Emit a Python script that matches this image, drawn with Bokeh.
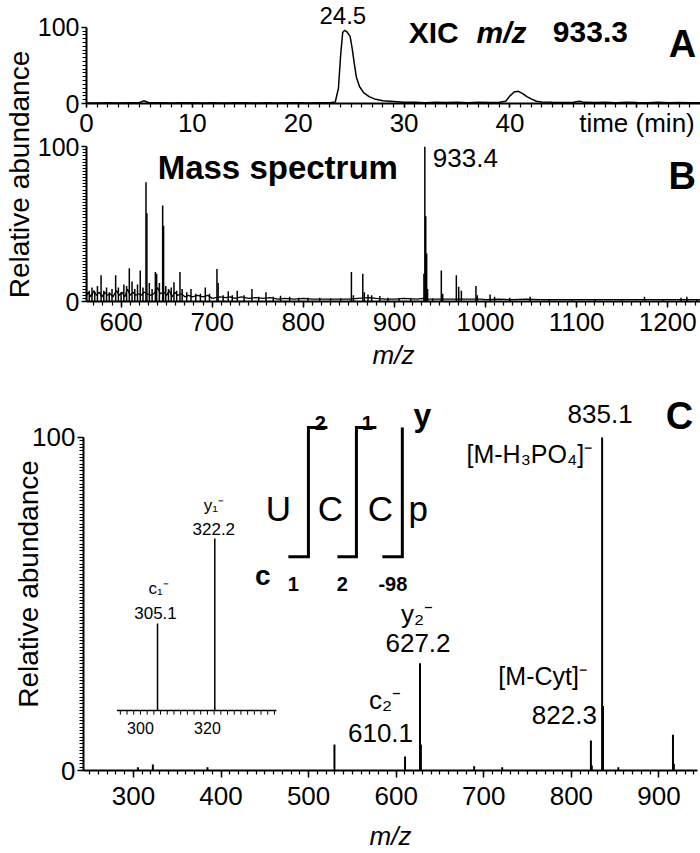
from math import pi
from bokeh.plotting import figure
from bokeh.models import Range1d, FixedTicker, Label
from bokeh.layouts import row, column
from bokeh.embed import file_html
from bokeh.resources import INLINE

FONT = "Liberation Sans"

# ------------------------------------------------------------------ data
# Panel A: extracted ion chromatogram, m/z 933.3
xic_time = [0, 1, 2, 3, 4, 5, 5.4, 5.9,
            7, 8, 9, 10, 11, 12, 13, 14, 15, 16, 17, 18, 19, 20, 21, 22, 23,
            23.5, 23.8, 24.0, 24.2, 24.4, 24.6, 24.9, 25.1, 25.3, 25.5, 25.8, 26.2, 26.7, 27.2,
            28, 29, 30, 31, 32, 33, 34, 35, 36, 37, 38, 39,
            39.6, 40.0, 40.4, 40.8, 41.2, 41.6, 42.0, 42.5,
            43, 44, 45, 46, 46.6,
            47, 48, 49, 50, 51, 52, 53, 54, 55, 56, 57, 58]
xic_abund = [0.8, 0.8, 1, 0.8, 1, 1, 3.5, 1,
             1, 0.8, 1, 1, 0.8, 1, 0.8, 1, 1, 0.8, 1, 0.8, 1, 1, 0.8, 1, 1,
             2, 20, 62, 93, 96, 94, 88, 72, 52, 34, 22, 14, 9, 6,
             3.5, 2.5, 1.5, 1.5, 1, 1.5, 1.2, 1.5, 1, 1.5, 1.2, 1.5,
             3, 10, 15, 16, 13, 9, 6, 3,
             2, 1.5, 1.2, 1.5, 3,
             1.5, 1.2, 1.5, 1, 1.5, 1.2, 1, 1.5, 1, 1.2, 1, 1]
xic_apex_label = "24.5"

# Panel B: full mass spectrum (peaks + baseline noise)
ms_peak_mz = [562, 565, 568, 571, 574, 578, 581, 584, 587, 590,
              594, 597, 600, 603, 606, 609, 612, 615, 618, 621,
              624, 627.3, 628.3, 631, 634, 637.6, 639, 642, 645.6, 646.6,
              649, 652, 655, 658, 661, 664.6, 667, 672, 676.7, 682,
              687, 692.4, 697, 705.2, 706.5, 712, 717.6, 722, 727.5, 735,
              743.6, 751, 759, 767, 775, 785, 795, 805, 818, 830,
              841, 852.8, 855, 865.3, 867, 871, 875, 884, 893, 905,
              918, 932.4, 933.4, 934.4, 935.4, 936.4, 942, 951.5, 953, 968,
              970.6, 973.5, 989.5, 991, 1005, 1010, 1026.5, 1049, 1070, 1095,
              1120, 1150, 1174.5, 1195, 1214.6, 1221, 1232]
ms_peak_abund = [19, 7, 9, 6, 10, 17, 7, 9, 6, 8,
                 17, 9, 6, 11, 10, 21.5, 13, 8, 11, 20,
                 9, 77, 57, 12, 8, 19, 18, 12, 62, 49,
                 10, 8, 9, 12.5, 7, 19, 8, 6, 8, 5,
                 5, 9, 5, 21, 12, 4, 6.6, 4, 7, 4,
                 8, 3, 6, 3, 3.7, 3, 2.5, 2.5, 2.5, 2,
                 2, 19, 4, 18, 6, 4.5, 4, 3.5, 2.5, 2,
                 2, 18, 100, 55, 31, 8, 2, 20, 5, 17,
                 9.5, 7, 10, 4, 4.5, 3, 2.5, 3, 1.5, 1.5,
                 1.5, 1.5, 3, 1.5, 2.5, 3, 1.5]
ms_noise_mz = [562, 564, 567, 570, 573, 576, 579, 582, 585, 588,
               591, 595, 598, 601, 604, 607, 610, 613, 616, 619,
               622, 625, 629, 632, 636, 640, 643, 647, 650, 653,
               656, 659, 662, 666, 670, 674, 678, 684, 690, 695,
               700, 708, 715, 720, 725, 732, 740, 748, 756, 764,
               772, 780, 790, 800, 810, 820, 835, 850, 860, 872,
               880, 890, 900, 910, 925, 931, 938, 945, 955, 965,
               975, 985, 995, 1000, 1015, 1030, 1045, 1060, 1080, 1100,
               1120, 1140, 1160, 1180, 1200, 1220, 1236]
ms_noise_abund = [4, 6, 3, 7, 4, 6, 3, 6, 4, 5,
                  3, 7, 4, 6, 3, 8, 4, 6, 4, 5,
                  4, 6, 5, 4, 5, 9, 5, 6, 4, 7,
                  3, 6, 4, 5, 3, 4, 3, 4, 3, 4,
                  2, 3, 2.5, 3, 2, 3, 2, 2.5, 2, 2.5,
                  1.5, 2, 1.5, 2, 1.5, 1.5, 1.5, 1.5, 2, 2.5,
                  2, 1.5, 1.5, 2, 1.5, 2, 1.5, 1.5, 1.5, 1.5,
                  1.5, 1.5, 1.5, 1.2, 1.5, 1.2, 1.5, 1.2, 1.2, 1.2,
                  1.2, 1.2, 1.2, 1.2, 1.2, 1.2, 1.2]
ms_base_label = "933.4"

# Panel C: MS/MS spectrum of m/z 933.4
msms_mz = [305.1, 322.2, 384.5, 529.5, 610.1, 627.2, 628.2, 689.0,
           721.0, 822.3, 823.3, 835.1, 836.1, 853.6, 916.0, 917.0]
msms_abund = [1.0, 1.8, 1.0, 7.8, 4.2, 32.2, 7.8, 1.3,
              1.0, 9.0, 1.5, 100.0, 19.4, 1.0, 10.7, 2.0]
inset_mz = [305.1, 322.2]
inset_abund = [50.6, 100.0]
ion_labels = [("835.1", 835.1), ("[M-H\u2083PO\u2084]\u207b", 835.1),
              ("[M-Cyt]\u207b", 822.3), ("822.3", 822.3),
              ("y\u2082\u207b", 627.2), ("627.2", 627.2),
              ("c\u2082\u207b", 610.1), ("610.1", 610.1)]
inset_labels = [("y\u2081\u207b", 322.2), ("322.2", 322.2),
                ("c\u2081\u207b", 305.1), ("305.1", 305.1)]

# tick labels
a_x_ticks = [0, 10, 20, 30, 40, 52]
a_x_labels = {52: "time (min)"}
b_x_ticks = [600, 700, 800, 900, 1000, 1100, 1200]
c_x_ticks = [300, 400, 500, 600, 700, 800, 900]
y_ticks = [0, 100]
inset_tick_labels = [300, 320]

# ------------------------------------------------------------------ styles / layout
ion_style = {  # text -> (dx, dy, align, size)
    "835.1": (-2, 23, "center", 26),
    "[M-H\u2083PO\u2084]\u207b": (-10, -17, "right", 25),
    "[M-Cyt]\u207b": (-4, 65, "right", 25),
    "822.3": (6, 26, "right", 26),
    "y\u2082\u207b": (-3, 49, "center", 26),
    "627.2": (-2, 20, "center", 26),
    "c\u2082\u207b": (-20, 57, "center", 26),
    "610.1": (8, 24, "right", 26),
}
inset_style = {
    "y\u2081\u207b": (-1, 33, 17),
    "322.2": (-1, 10, 17),
    "c\u2081\u207b": (1, 35, 17),
    "305.1": (-2, 10, 17),
}
FW = 614
LAB_W = 34
B_PAD = 10   # extra room above panel B for its "100" tick label


def mkfig(xr, yr, fh, **kw):
    p = figure(frame_width=FW, frame_height=fh, x_range=xr, y_range=yr,
               output_backend="svg", toolbar_location=None,
               min_border_right=2, min_border_bottom=0, **kw)
    p.grid.visible = False
    p.outline_line_color = None
    return p


def style_axis(ax, tick_out=6, minor_out=4, standoff=2, size="26px"):
    ax.axis_line_width = 2
    ax.axis_line_color = "black"
    ax.major_tick_line_width = 1.5
    ax.minor_tick_line_width = 1.2
    ax.major_tick_line_color = "black"
    ax.minor_tick_line_color = "black"
    ax.major_tick_in = 0
    ax.minor_tick_in = 0
    ax.major_tick_out = tick_out
    ax.minor_tick_out = minor_out
    ax.major_label_text_font = FONT
    ax.major_label_text_font_size = size
    ax.major_label_text_color = "black"
    ax.major_label_standoff = standoff


def axis_title(ax, text, size, standoff, style="normal"):
    ax.axis_label = text
    ax.axis_label_text_font = FONT
    ax.axis_label_text_font_style = style
    ax.axis_label_text_font_size = f"{size}px"
    ax.axis_label_text_color = "black"
    ax.axis_label_standoff = standoff


def lab(p, text, x, y, size, align="center", baseline="middle", style="normal",
        dx=0, dy=0, xr="default", yr="default"):
    p.add_layout(Label(x=x, y=y, text=text,
                       text_font=FONT, text_font_size=f"{size}px",
                       text_font_style=style, text_align=align,
                       text_baseline=baseline, text_color="black",
                       x_offset=dx, y_offset=dy,
                       x_range_name=xr, y_range_name=yr))


# ---------------- Panel A
pA = mkfig(Range1d(0, 58), Range1d(0, 135), 103, min_border_left=83 - LAB_W, min_border_top=0)
pA.line(xic_time, xic_abund, line_width=1.5, color="black")
style_axis(pA.xaxis[0], tick_out=4, minor_out=4, standoff=0)
style_axis(pA.yaxis[0], tick_out=5, size="25px")
pA.xaxis.ticker = FixedTicker(ticks=a_x_ticks, minor_ticks=list(range(0, 58)))
pA.xaxis.major_label_overrides = a_x_labels
pA.yaxis.ticker = FixedTicker(ticks=y_ticks, minor_ticks=list(range(0, 101, 5)))
pA.yaxis.bounds = (0, 100)
apex = max(range(len(xic_abund)), key=lambda i: xic_abund[i])
lab(pA, xic_apex_label, xic_time[apex], xic_abund[apex], 24, dx=-2, dy=15)
lab(pA, "XIC", 32.8, 93.4, 30, style="bold")
lab(pA, "m/z", 39.2, 93.4, 30, style="bold italic")
lab(pA, "933.3", 47.6, 93.4, 30, style="bold")
lab(pA, "A", 56.3, 77.6, 38, style="bold")

# ---------------- Panel B
pB = mkfig(Range1d(562, 1236), Range1d(0, 104), 161, min_border_left=83 - LAB_W,
           min_border_top=B_PAD)
pB.border_fill_color = None
try:
    pB.margin = (-B_PAD, 0, 0, 0)
except Exception:
    pB.min_border_top = 0
pB.line(ms_noise_mz, ms_noise_abund, line_width=1.3, color="black")
pB.segment(x0=ms_peak_mz, y0=0, x1=ms_peak_mz, y1=ms_peak_abund,
           line_width=1.5, color="black")
style_axis(pB.xaxis[0], standoff=5)
style_axis(pB.yaxis[0], tick_out=5, size="25px")
pB.xaxis.ticker = FixedTicker(ticks=b_x_ticks, minor_ticks=list(range(570, 1236, 10)))
pB.yaxis.ticker = FixedTicker(ticks=y_ticks, minor_ticks=list(range(0, 101, 2)))
pB.yaxis.bounds = (0, 100)
axis_title(pB.xaxis[0], "m/z", 26, 6, "italic")
bp = max(range(len(ms_peak_abund)), key=lambda i: ms_peak_abund[i])
lab(pB, ms_base_label, ms_peak_mz[bp], ms_peak_abund[bp], 26, align="left", dx=8, dy=-11)
lab(pB, "Mass spectrum", 772, 86.5, 33, style="bold")
lab(pB, "B", 1216, 81.3, 38, style="bold")

# shared y-axis title for panels A and B (an axis with no ticks)
LAB_H = 372
labAB = figure(width=LAB_W, height=LAB_H, x_range=Range1d(0, 1), y_range=Range1d(0, 1),
               x_axis_location=None, y_axis_location="left",
               min_border_left=0, min_border_right=0, min_border_top=0,
               min_border_bottom=24, output_backend="svg", toolbar_location=None)
labAB.grid.visible = False
labAB.outline_line_color = None
lax = labAB.yaxis[0]
lax.ticker = FixedTicker(ticks=[])
lax.axis_line_color = None
lax.major_tick_line_color = None
lax.minor_tick_line_color = None
lax.major_tick_out = 0
lax.minor_tick_out = 0
lax.major_label_text_font_size = "0px"
lax.major_label_standoff = 0
axis_title(lax, "Relative abundance", 28, 0)

# ---------------- Panel C
pC = mkfig(Range1d(243, 944), Range1d(0, 112), 373, min_border_left=83, min_border_top=25)
pC.extra_x_ranges = {"ix": Range1d(283.0, 466.3)}
pC.extra_y_ranges = {"iy": Range1d(-34.9, 182.0)}
pC.segment(x0=msms_mz, y0=0, x1=msms_mz, y1=msms_abund, line_width=2, color="black")
style_axis(pC.xaxis[0], tick_out=7, standoff=9)
style_axis(pC.yaxis[0])
pC.xaxis.ticker = FixedTicker(ticks=c_x_ticks, minor_ticks=list(range(250, 944, 10)))
pC.yaxis.ticker = FixedTicker(ticks=y_ticks, minor_ticks=list(range(0, 101, 1)))
pC.yaxis.bounds = (0, 100)
axis_title(pC.xaxis[0], "m/z", 26, 13, "italic")
axis_title(pC.yaxis[0], "Relative abundance", 28, -15)

c_ab = dict(zip(msms_mz, msms_abund))
for text, mz in ion_labels:
    dx, dy, al, sz = ion_style[text]
    lab(pC, text, mz, c_ab[mz], sz, align=al, dx=dx, dy=dy)

# inset (zoom of m/z 293-341)
i_ab = dict(zip(inset_mz, inset_abund))
inset_lo, inset_hi = 293.0, 340.6
inset_minor = list(range(294, 341, 2))
pC.segment(x0=inset_mz, y0=0, x1=inset_mz, y1=inset_abund, line_width=1.5,
           color="black", x_range_name="ix", y_range_name="iy")
pC.segment(x0=[inset_lo], y0=[0], x1=[inset_hi], y1=[0], line_width=1.5,
           color="black", x_range_name="ix", y_range_name="iy")
pC.segment(x0=inset_minor, y0=0, x1=inset_minor, y1=-2.4, line_width=1,
           color="black", x_range_name="ix", y_range_name="iy")
for t in inset_tick_labels:
    lab(pC, str(t), t, -10, 16, xr="ix", yr="iy")
for text, mz in inset_labels:
    dx, dy, sz = inset_style[text]
    lab(pC, text, mz, i_ab[mz], sz, dx=dx, dy=dy, xr="ix", yr="iy")

# sequence scheme U C C p with c / y cleavages
pC.multi_line(xs=[[476.9, 499.8, 499.8, 521.5], [532.9, 554.6, 554.6, 577.4],
                  [584.2, 607.0, 607.0]],
              ys=[[64.2, 64.2, 103, 103], [64.2, 64.2, 103, 103], [64.2, 64.2, 103]],
              line_width=3, color="black", line_join="miter")
for t, x in [("U", 465.5), ("C", 524.9), ("C", 582.0), ("p", 625.3)]:
    lab(pC, t, x, 78.6, 35, baseline="alphabetic")
for t, x in [("2", 513.5), ("1", 567.0)]:
    lab(pC, t, x, 104.3, 20, style="bold", baseline="alphabetic")
for t, x in [("1", 482.6), ("2", 538.6), ("-98", 596.2)]:
    lab(pC, t, x, 56.1, 20, style="bold", baseline="alphabetic")
lab(pC, "y", 630.0, 106.6, 32, style="bold", baseline="alphabetic")
lab(pC, "c", 447.8, 58.5, 28, style="bold", baseline="alphabetic")
lab(pC, "C", 923.3, 106.5, 38, style="bold")

layout = column(row(labAB, column(pA, pB)), pC)
open("out.html", "w").write(file_html(layout, INLINE))
